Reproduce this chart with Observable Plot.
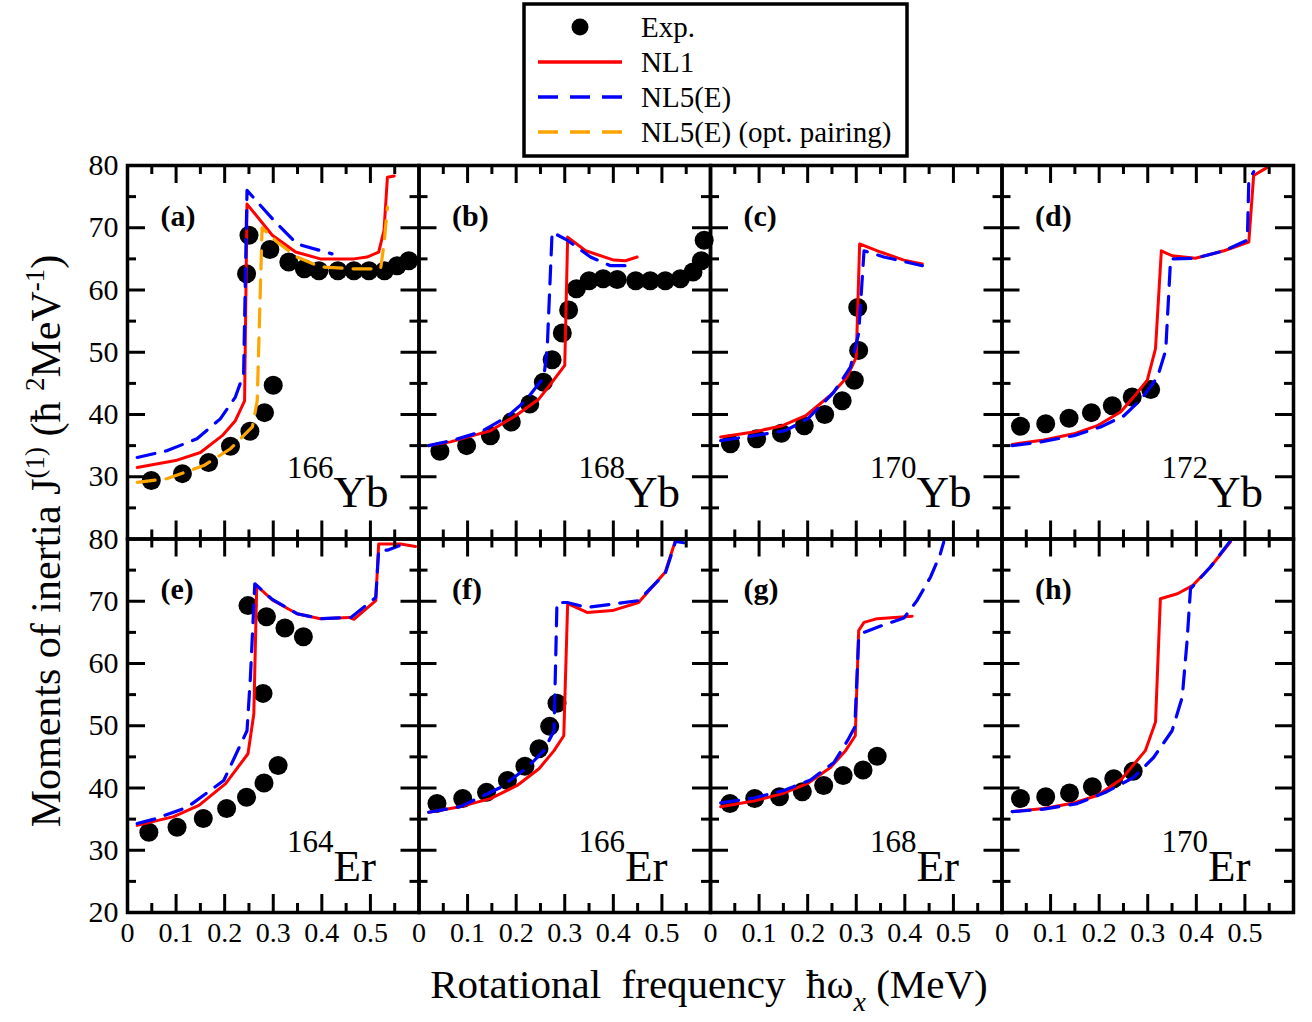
<!DOCTYPE html>
<html><head><meta charset="utf-8">
<script src="https://cdn.jsdelivr.net/npm/d3@7"></script>
<script src="https://cdn.jsdelivr.net/npm/@observablehq/plot@0.6"></script>
<style>
body{margin:0;background:#fff}
#chart{position:relative;width:1312px;height:1022px}
</style>
</head><body><div id="chart"></div>
<script>
// ---- axes / ticks ----
const xDomain = [0, 0.6];
const yDomain = [20, 80];
const xMajorTicks = [0.1, 0.2, 0.3, 0.4, 0.5];
const xMinorTicks = [0.05, 0.15, 0.25, 0.35, 0.45, 0.55];
const yMajorTicks = [30, 40, 50, 60, 70];
const yMinorTicks = [25, 35, 45, 55, 65, 75];
const xTickLabels = [0, 0.1, 0.2, 0.3, 0.4, 0.5];
const yTickLabelsTop = [30, 40, 50, 60, 70, 80];
const yTickLabelsBottom = [20, 30, 40, 50, 60, 70, 80];

// ---- panels ----
const panelLetters = ["(a)", "(b)", "(c)", "(d)", "(e)", "(f)", "(g)", "(h)"];
const massNumbers = ["166", "168", "170", "172", "164", "166", "168", "170"];
const elements = ["Yb", "Yb", "Yb", "Yb", "Er", "Er", "Er", "Er"];

// ---- (a) 166Yb ----
const expA = [[0.049,29.4],[0.113,30.5],[0.167,32.3],[0.212,34.9],[0.252,37.3],[0.282,40.3],[0.300,44.7],[0.245,62.6],[0.250,68.8],[0.293,66.5],[0.332,64.5],[0.364,63.4],[0.394,63.1],[0.433,63.1],[0.466,63.1],[0.497,63.1],[0.529,63.1],[0.555,63.9],[0.579,64.7]];
const nl1A = [[0.02,31.5],[0.099,32.6],[0.150,33.9],[0.195,36.6],[0.222,39.0],[0.241,42.2],[0.246,73.8],[0.298,68.8],[0.346,66.1],[0.397,65.0],[0.466,65.0],[0.493,65.3],[0.517,66.1],[0.528,69.6],[0.535,78.1],[0.549,78.3]];
const nl5A = [[0.02,33.1],[0.082,34.2],[0.143,36.1],[0.191,39.3],[0.222,42.8],[0.239,46.5],[0.246,76.0],[0.301,71.2],[0.349,67.4],[0.421,65.8]];
const optA = [[0.02,29.1],[0.082,29.7],[0.157,31.8],[0.212,34.5],[0.257,38.0],[0.267,42.2],[0.277,70.0],[0.308,67.7],[0.349,65.3],[0.397,63.7],[0.466,63.4],[0.521,63.4],[0.528,67.4],[0.535,73.3]];
// ---- (b) 168Yb ----
const expB = [[0.043,34.1],[0.098,35.0],[0.147,36.6],[0.190,38.8],[0.228,41.7],[0.256,45.2],[0.274,48.8],[0.295,53.1],[0.308,56.8],[0.324,60.2],[0.350,61.5],[0.379,61.8],[0.408,61.7],[0.446,61.5],[0.476,61.5],[0.507,61.5],[0.538,61.8],[0.564,62.9],[0.581,64.7],[0.587,68.0]];
const nl1B = [[0.02,35.0],[0.065,35.6],[0.120,36.8],[0.147,37.4],[0.199,39.8],[0.247,42.5],[0.274,45.2],[0.300,47.9],[0.306,68.5],[0.343,66.3],[0.401,64.8],[0.425,64.7],[0.449,65.3]];
const nl5B = [[0.02,35.0],[0.072,35.9],[0.127,37.2],[0.181,39.6],[0.219,42.2],[0.257,46.0],[0.264,50.8],[0.274,69.3],[0.305,68.0],[0.353,65.3],[0.394,63.9],[0.429,63.9]];
// ---- (c) 170Yb ----
const expC = [[0.041,35.3],[0.095,36.1],[0.146,37.0],[0.193,38.2],[0.235,40.0],[0.271,42.2],[0.296,45.5],[0.305,50.3],[0.303,57.2]];
const nl1C = [[0.021,36.4],[0.089,37.2],[0.148,38.2],[0.196,39.8],[0.247,43.1],[0.281,46.0],[0.300,49.2],[0.307,67.4],[0.350,66.1],[0.398,64.8],[0.436,64.2]];
const nl5C = [[0.021,35.8],[0.089,36.6],[0.154,37.4],[0.200,39.3],[0.254,43.6],[0.288,47.6],[0.305,53.0],[0.316,66.3],[0.357,65.3],[0.436,63.9]];
// ---- (d) 172Yb ----
const expD = [[0.038,38.1],[0.090,38.5],[0.138,39.4],[0.184,40.3],[0.227,41.4],[0.268,42.8],[0.306,44.0]];
const nl1D = [[0.021,35.2],[0.086,35.9],[0.148,36.9],[0.196,38.2],[0.244,40.4],[0.271,42.8],[0.299,45.5],[0.316,50.6],[0.328,66.3],[0.350,65.5],[0.398,65.1],[0.457,66.3],[0.508,67.7],[0.518,78.4],[0.546,79.7]];
const nl5D = [[0.021,35.0],[0.080,35.6],[0.148,36.6],[0.203,38.0],[0.251,39.8],[0.287,42.5],[0.320,46.0],[0.337,50.3],[0.347,65.0],[0.398,65.1],[0.457,66.3],[0.505,68.0],[0.508,77.6],[0.518,79.0]];
// ---- (e) 164Er ----
const expE = [[0.044,32.9],[0.102,33.7],[0.156,35.1],[0.204,36.7],[0.245,38.5],[0.281,40.8],[0.310,43.6],[0.279,55.2],[0.248,69.3],[0.286,67.5],[0.324,65.7],[0.362,64.3]];
const nl1E = [[0.020,34.0],[0.095,35.4],[0.147,37.2],[0.202,40.7],[0.248,45.5],[0.260,51.9],[0.266,72.5],[0.298,70.2],[0.349,68.0],[0.397,67.2],[0.456,67.4],[0.466,67.1],[0.511,70.1],[0.517,79.2],[0.562,79.2],[0.593,78.8]];
const nl5E = [[0.020,34.3],[0.055,35.0],[0.123,36.9],[0.198,41.2],[0.246,49.2],[0.253,57.8],[0.262,72.8],[0.298,70.3],[0.349,68.0],[0.397,67.2],[0.460,67.4],[0.511,70.6],[0.517,78.2],[0.535,78.2],[0.559,78.9]];
// ---- (f) 166Er ----
const expF = [[0.037,37.5],[0.090,38.3],[0.139,39.3],[0.182,41.2],[0.218,43.5],[0.247,46.3],[0.269,49.9],[0.284,53.6]];
const nl1F = [[0.020,36.1],[0.085,37.0],[0.147,38.3],[0.202,40.4],[0.247,43.1],[0.278,46.0],[0.298,48.4],[0.306,69.6],[0.346,68.2],[0.398,68.5],[0.452,69.8],[0.507,74.7],[0.528,79.8]];
const nl5F = [[0.020,36.1],[0.085,37.0],[0.168,40.1],[0.223,43.3],[0.257,46.0],[0.278,49.2],[0.284,69.8],[0.305,69.8],[0.346,69.0],[0.452,70.1],[0.507,74.5],[0.528,79.6],[0.545,79.4]];
// ---- (g) 168Er ----
const expG = [[0.040,37.5],[0.091,38.3],[0.142,38.6],[0.189,39.4],[0.233,40.4],[0.273,42.0],[0.314,42.9],[0.343,45.1]];
const nl1G = [[0.021,37.0],[0.089,37.9],[0.148,39.1],[0.199,40.7],[0.247,43.3],[0.278,46.0],[0.298,48.4],[0.305,65.3],[0.316,66.6],[0.343,67.2],[0.415,67.6]];
const nl5G = [[0.021,37.6],[0.089,38.4],[0.151,39.6],[0.206,41.3],[0.254,44.1],[0.282,47.6],[0.297,49.8],[0.305,64.2],[0.316,65.0],[0.353,66.1],[0.398,67.3],[0.425,70.1],[0.453,73.9],[0.473,77.6],[0.480,79.5]];
// ---- (h) 170Er ----
const expH = [[0.038,38.3],[0.090,38.6],[0.139,39.2],[0.186,40.2],[0.230,41.5],[0.270,42.7]];
const nl1H = [[0.021,36.2],[0.086,36.7],[0.148,37.6],[0.196,38.8],[0.247,41.5],[0.295,46.0],[0.316,50.6],[0.326,70.4],[0.361,71.2],[0.392,72.5],[0.429,75.5],[0.470,79.5]];
const nl5H = [[0.021,36.2],[0.086,36.6],[0.155,37.5],[0.213,39.3],[0.271,41.7],[0.312,44.9],[0.350,49.2],[0.371,54.6],[0.381,63.7],[0.388,72.0],[0.429,75.5],[0.470,79.7]];

const expAll = [expA, expB, expC, expD, expE, expF, expG, expH];
const nl1All = [nl1A, nl1B, nl1C, nl1D, nl1E, nl1F, nl1G, nl1H];
const nl5All = [nl5A, nl5B, nl5C, nl5D, nl5E, nl5F, nl5G, nl5H];
const optAll = [optA, null, null, null, null, null, null, null];

// ---- build tables ----
const fxOf = i => i % 4, fyOf = i => Math.floor(i / 4);
function toRows(list) {
  const out = [];
  list.forEach((arr, i) => { if (arr) arr.forEach(([x, y]) => out.push({x, y, fx: fxOf(i), fy: fyOf(i)})); });
  return out;
}
const expRows = toRows(expAll), nl1Rows = toRows(nl1All), nl5Rows = toRows(nl5All), optRows = toRows(optAll);
const panelRows = panelLetters.map((p, i) => ({p, mass: massNumbers[i], el: elements[i], fx: fxOf(i), fy: fyOf(i)}));
const yLabRows = [...yTickLabelsTop.map(v => ({v, fx: 0, fy: 0})), ...yTickLabelsBottom.map(v => ({v, fx: 0, fy: 1}))];
const xLabRows = [0,1,2,3].flatMap(c => xTickLabels.map(v => ({v, fx: c, fy: 1})));

// ---- layout ----
const W = 1312, Hh = 1022, mL = 127, mR = 19, mT = 165, mB = 110;
const PW = (W - mL - mR) / 4, PH = (Hh - mT - mB) / 2;
const LMaj = 18, LMin = 9, TW = 3;
const font = "Liberation Serif";
const dash = "18,11";

const tickMarks = [];
for (const [t, L] of [[yMajorTicks, LMaj], [yMinorTicks, LMin]]) {
  tickMarks.push(Plot.tickY(t, {y: d => d, insetRight: PW - L, stroke: "black", strokeWidth: TW}));
  tickMarks.push(Plot.tickY(t, {y: d => d, insetLeft: PW - L, stroke: "black", strokeWidth: TW}));
}
for (const [t, L] of [[xMajorTicks, LMaj], [xMinorTicks, LMin]]) {
  tickMarks.push(Plot.tickX(t, {x: d => d, insetTop: PH - L, stroke: "black", strokeWidth: TW}));
  tickMarks.push(Plot.tickX(t, {x: d => d, insetBottom: PH - L, stroke: "black", strokeWidth: TW}));
}

const chart = Plot.plot({
  width: W, height: Hh,
  marginLeft: mL, marginRight: mR, marginTop: mT, marginBottom: mB,
  style: {fontFamily: font, background: "white", overflow: "visible"},
  x: {domain: xDomain, axis: null},
  y: {domain: yDomain, axis: null},
  fx: {domain: [0,1,2,3], paddingInner: 0, paddingOuter: 0, axis: null, round: false},
  fy: {domain: [0,1], paddingInner: 0, paddingOuter: 0, axis: null, round: false},
  marks: [
    Plot.dot(expRows, {x: "x", y: "y", fx: "fx", fy: "fy", r: 9.5, fill: "black", stroke: "none"}),
    Plot.line(nl1Rows, {x: "x", y: "y", fx: "fx", fy: "fy", stroke: "#ff0000", strokeWidth: 3}),
    Plot.line(nl5Rows, {x: "x", y: "y", fx: "fx", fy: "fy", stroke: "#0000ff", strokeWidth: 3.2, strokeDasharray: dash}),
    Plot.line(optRows, {x: "x", y: "y", fx: "fx", fy: "fy", stroke: "#ffa500", strokeWidth: 3.2, strokeDasharray: dash}),
    ...tickMarks,
    Plot.frame({stroke: "black", strokeWidth: 3.5}),
    Plot.text(panelRows, {fx: "fx", fy: "fy", text: "p", frameAnchor: "top-left", dx: 33, dy: 60, lineAnchor: "bottom", textAnchor: "start", fontSize: 30, fontWeight: "bold", fontFamily: font, fill: "black"}),
    Plot.text(panelRows, {fx: "fx", fy: "fy", text: "mass", frameAnchor: "bottom-left", dx: 206, dy: -61, lineAnchor: "bottom", textAnchor: "end", fontSize: 31, fontFamily: font, fill: "black"}),
    Plot.text(panelRows, {fx: "fx", fy: "fy", text: "el", frameAnchor: "bottom-left", dx: 206, dy: -32, lineAnchor: "bottom", textAnchor: "start", fontSize: 45, fontFamily: font, fill: "black"}),
    Plot.text(yLabRows, {fx: "fx", fy: "fy", y: "v", text: d => String(d.v), frameAnchor: "left", textAnchor: "end", dx: -9, fontSize: 30, fontFamily: font, fill: "black"}),
    Plot.text(xLabRows, {fx: "fx", fy: "fy", x: "v", text: d => String(d.v), frameAnchor: "bottom", lineAnchor: "top", dy: 10, fontSize: 28, fontFamily: font, fill: "black", ariaLabel: "xlabels"})
  ]
});
document.getElementById("chart").appendChild(chart);

// condense x tick labels
const svg = d3.select(chart);
svg.selectAll('g[aria-label="xlabels"] text').each(function() {
  const len = this.getComputedTextLength();
  this.setAttribute("textLength", len * 0.72);
  this.setAttribute("lengthAdjust", "spacingAndGlyphs");
});

// ---- legend ----
const lg = svg.append("g").attr("font-family", font).attr("font-size", 29).attr("text-anchor", "start");
lg.append("rect").attr("x", 524).attr("y", 4).attr("width", 383).attr("height", 152)
  .attr("fill", "white").attr("stroke", "black").attr("stroke-width", 3.5);
const legendItems = [
  {label: "Exp.", kind: "dot"},
  {label: "NL1", kind: "line", color: "#ff0000", dash: null},
  {label: "NL5(E)", kind: "line", color: "#0000ff", dash: "20,12"},
  {label: "NL5(E) (opt. pairing)", kind: "line", color: "#ffa500", dash: "20,12"}
];
legendItems.forEach((it, i) => {
  const cy = 27 + i * 35;
  if (it.kind === "dot") lg.append("circle").attr("cx", 580).attr("cy", cy).attr("r", 8.5).attr("fill", "black");
  else lg.append("line").attr("x1", 538).attr("x2", 622).attr("y1", cy).attr("y2", cy)
    .attr("stroke", it.color).attr("stroke-width", 3.5).attr("stroke-dasharray", it.dash);
  lg.append("text").attr("x", 641).attr("y", cy + 10).attr("text-anchor", "start").attr("fill", "black").text(it.label);
});

// ---- axis titles ----
const xt = svg.append("text").attr("x", 709).attr("y", 998).attr("text-anchor", "middle")
  .attr("font-family", font).attr("font-size", 41).attr("fill", "black");
xt.append("tspan").text("Rotational\u00a0\u00a0frequency\u00a0\u00a0\u0127\u03c9");
xt.append("tspan").attr("font-size", 28).attr("font-style", "italic").attr("dy", 13).text("x");
xt.append("tspan").attr("dy", -13).text("\u00a0(MeV)");

const yt = svg.append("text").attr("transform", "translate(60,541) rotate(-90)").attr("text-anchor", "middle")
  .attr("font-family", font).attr("font-size", 42).attr("fill", "black");
yt.append("tspan").text("Moments of inertia J");
yt.append("tspan").attr("font-size", 27).attr("dy", -16).text("(1)");
yt.append("tspan").attr("dy", 16).text(" (\u0127 ");
yt.append("tspan").attr("font-size", 27).attr("dy", -16).text("2");
yt.append("tspan").attr("dy", 16).text("MeV");
yt.append("tspan").attr("font-size", 27).attr("dy", -16).text("-1");
yt.append("tspan").attr("dy", 16).text(")");
</script>
</body></html>
